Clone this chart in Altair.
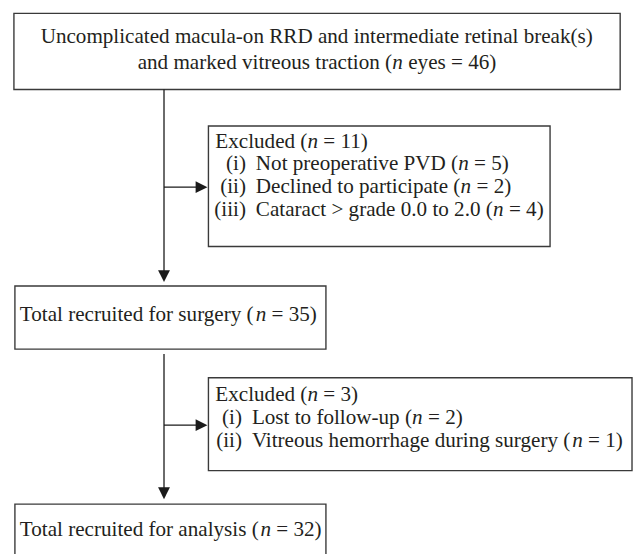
import altair as alt
import pandas as pd

# ---------------- text content ----------------
top_lines = ["Uncomplicated macula-on RRD and intermediate retinal break(s)",
             "and marked vitreous traction (*n* eyes = 46)"]
excl1_title = "Excluded (*n* = 11)"
excl1_labels = ["(i)", "(ii)", "(iii)"]
excl1_items = ["Not preoperative PVD (*n* = 5)",
               "Declined to participate (*n* = 2)",
               "Cataract > grade 0.0 to 2.0 (*n* = 4)"]
surgery_text = "Total recruited for surgery (*n* = 35)"
excl2_title = "Excluded (*n* = 3)"
excl2_labels = ["(i)", "(ii)"]
excl2_items = ["Lost to follow-up (*n* = 2)",
               "Vitreous hemorrhage during surgery (*n* = 1)"]
analysis_text = "Total recruited for analysis (*n* = 32)"

# ---------------- layout (page pixels) ----------------
FS = 21.4
FONT = "Liberation Serif"
TXT = "#231f20"
W, H = 625, 546
X0, Y0 = 8, 8

boxes = {
    "top": (14, 628, 10, 87),
    "ex1": (211, 557, 124, 246),
    "surg": (15, 330, 286, 350),
    "ex2": (211, 640, 379, 473),
    "anal": (15, 330, 507, 560),
}
spine_x = 166
line_gap = 23

# Times / Liberation Serif advance widths (1/1000 em)
metrics = {' ': 250, '(': 333, ')': 333, '=': 564, '>': 564, '.': 250, '-': 333, ',': 250,
           'a': 444, 'b': 500, 'c': 444, 'd': 500, 'e': 444, 'f': 333, 'g': 500, 'h': 500,
           'i': 278, 'j': 278, 'k': 500, 'l': 278, 'm': 778, 'n': 500, 'o': 500, 'p': 500,
           'q': 500, 'r': 333, 's': 389, 't': 278, 'u': 500, 'v': 500, 'w': 722, 'x': 500,
           'y': 500, 'z': 444,
           'A': 722, 'B': 667, 'C': 667, 'D': 722, 'E': 611, 'F': 556, 'G': 722, 'H': 722,
           'I': 333, 'L': 611, 'N': 722, 'P': 556, 'R': 667, 'T': 611, 'U': 722, 'V': 722}


def tw(s):
    return sum(metrics.get(c, 500) for c in s) / 1000 * FS


def segments(s):
    parts = s.split("*")
    return [(p, "italic" if k % 2 else "normal") for k, p in enumerate(parts) if p]


rows = []


def add_line(s, x, y, align="left"):
    segs = segments(s)
    total = sum(tw(p) for p, _ in segs)
    if align == "center":
        x = x - total / 2
    elif align == "right":
        x = x - total
    for p, st in segs:
        core = p.strip(" ")
        lead = len(p) - len(p.lstrip(" "))
        rows.append({"x": x + tw(" " * lead), "y": y, "text": core, "style": st})
        x += tw(p)


# top box
bx = boxes["top"]
for k, s in enumerate(top_lines):
    add_line(s, (bx[0] + bx[1]) / 2, bx[2] + 24 + k * 26, "center")

# exclusion box 1
bx = boxes["ex1"]
add_line(excl1_title, bx[0] + 7, bx[2] + 16)
for k, (lab, item) in enumerate(zip(excl1_labels, excl1_items)):
    y = bx[2] + 16 + (k + 1) * line_gap
    add_line(lab, bx[0] + 38, y, "right")
    add_line(item, bx[0] + 48, y)

# surgery box
bx = boxes["surg"]
add_line(surgery_text, bx[0] + 5, bx[2] + 30)

# exclusion box 2
bx = boxes["ex2"]
add_line(excl2_title, bx[0] + 7, bx[2] + 18)
for k, (lab, item) in enumerate(zip(excl2_labels, excl2_items)):
    y = bx[2] + 18 + (k + 1) * line_gap
    add_line(lab, bx[0] + 34, y, "right")
    add_line(item, bx[0] + 44, y)

# analysis box
bx = boxes["anal"]
add_line(analysis_text, bx[0] + 5, bx[2] + 26)

text_df = pd.DataFrame(rows)

box_df = pd.DataFrame([{"x1": b[0], "x2": b[1], "y1": b[2], "y2": b[3]} for b in boxes.values()])

# connectors
AH = 12  # arrow head length
ex1_mid = (boxes["ex1"][2] + boxes["ex1"][3]) / 2 + 1
ex2_mid = (boxes["ex2"][2] + boxes["ex2"][3]) / 2 + 1
rule_df = pd.DataFrame([
    {"x1": spine_x, "x2": spine_x, "y1": boxes["top"][3], "y2": boxes["surg"][2] - 4 - AH + 2},
    {"x1": spine_x, "x2": boxes["ex1"][0] - 1 - AH + 2, "y1": ex1_mid, "y2": ex1_mid},
    {"x1": spine_x, "x2": spine_x, "y1": boxes["surg"][3] + 5, "y2": boxes["anal"][2] - 5 - AH + 2},
    {"x1": spine_x, "x2": boxes["ex2"][0] - 1 - AH + 2, "y1": ex2_mid, "y2": ex2_mid},
])
head_df = pd.DataFrame([
    {"x": spine_x, "y": boxes["surg"][2] - 4 - AH / 2, "dir": "down"},
    {"x": boxes["ex1"][0] - 1 - AH / 2, "y": ex1_mid, "dir": "right"},
    {"x": spine_x, "y": boxes["anal"][2] - 5 - AH / 2, "dir": "down"},
    {"x": boxes["ex2"][0] - 1 - AH / 2, "y": ex2_mid, "dir": "right"},
])

xs = alt.Scale(domain=[X0, X0 + W], nice=False, zero=False)
ys = alt.Scale(domain=[Y0, Y0 + H], nice=False, zero=False, reverse=True)

boxes_layer = alt.Chart(box_df).mark_rect(fill="white", stroke="#3a3a3a", strokeWidth=1.4).encode(
    x=alt.X("x1:Q", scale=xs, axis=None), x2="x2:Q",
    y=alt.Y("y1:Q", scale=ys, axis=None), y2="y2:Q")

rules_layer = alt.Chart(rule_df).mark_rule(color="#1a1a1a", strokeWidth=1.3).encode(
    x=alt.X("x1:Q", scale=xs, axis=None), x2="x2:Q",
    y=alt.Y("y1:Q", scale=ys, axis=None), y2="y2:Q")

heads_layer = alt.Chart(head_df).mark_point(filled=True, color="#1a1a1a", size=144, opacity=1,
                                            strokeWidth=0).encode(
    x=alt.X("x:Q", scale=xs, axis=None),
    y=alt.Y("y:Q", scale=ys, axis=None),
    shape=alt.Shape("dir:N", scale=alt.Scale(domain=["down", "right"],
                                             range=["M-1,-1L1,-1L0,1Z", "M-1,-1L1,0L-1,1Z"]),
                    legend=None))

normal_layer = alt.Chart(text_df).transform_filter(alt.datum.style == "normal").mark_text(
    align="left", baseline="middle", font=FONT, fontSize=FS, color=TXT).encode(
    x=alt.X("x:Q", scale=xs, axis=None), y=alt.Y("y:Q", scale=ys, axis=None), text="text:N")

italic_layer = alt.Chart(text_df).transform_filter(alt.datum.style == "italic").mark_text(
    align="left", baseline="middle", font=FONT, fontSize=FS, fontStyle="italic", color=TXT).encode(
    x=alt.X("x:Q", scale=xs, axis=None), y=alt.Y("y:Q", scale=ys, axis=None), text="text:N")

chart = alt.layer(boxes_layer, rules_layer, heads_layer, normal_layer, italic_layer).properties(
    width=W, height=H,
    autosize=alt.AutoSizeParams(type="none"),
    padding={"left": 0, "top": 0, "right": 8, "bottom": 0},
    background="white",
).configure_view(stroke=None)

chart.save("out.html", embed_options={"renderer": "svg", "actions": False})
